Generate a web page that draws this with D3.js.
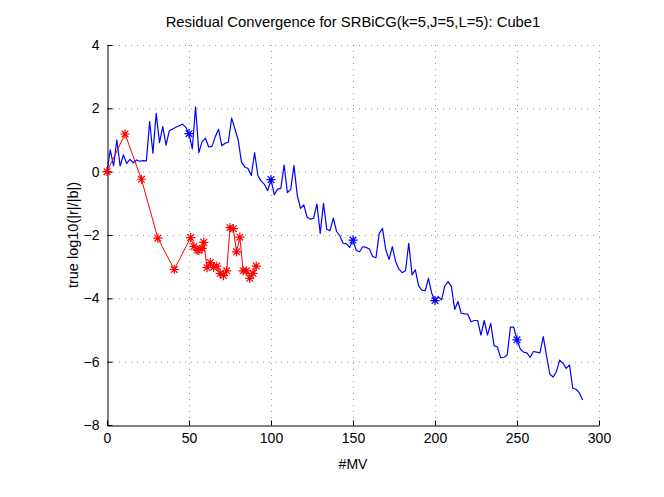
<!DOCTYPE html>
<html>
<head>
<meta charset="utf-8">
<script src="https://cdn.jsdelivr.net/npm/d3@7"></script>
<style>
  html, body { margin: 0; padding: 0; background: #fff; }
  svg { display: block; }
  text { font-family: "Liberation Sans", Arial, Helvetica, sans-serif; fill: #000; }
</style>
</head>
<body>
<svg id="chart" width="664" height="497"></svg>
<script>
// ---- data ----
const blueMV = [0,2,4,6,8,10,12,14,16,18,20,22,24,26,28,30,32,34,36,38,40,42,44,46,48,50,
  52,54,56,58,60,62,64,66,68,70,72,74,76,78,80,82,84,86,88,90,92,94,96,98,100,
  102,104,106,108,110,112,114,116,118,120,122,124,126,128,130,132,134,136,138,140,
  142,144,146,148,150,152,154,156,158,160,162,164,166,168,170,172,174,176,178,180,
  182,184,186,188,190,192,194,196,198,200,202,204,206,208,210,212,214,216,218,220,
  222,224,226,228,230,232,234,236,238,240,242,244,246,248,250,252,254,256,258,260,
  262,264,266,268,270,272,274,276,278,280,282,284,286,288,290];
const blueRes = [0.02,0.69,0.18,1.00,0.18,0.53,0.26,0.39,0.28,0.37,0.33,0.35,0.34,1.58,0.58,1.84,0.92,1.42,0.84,1.29,1.35,1.40,1.45,1.50,1.40,1.20,
  0.72,2.05,0.60,0.95,1.06,0.78,0.80,1.10,1.34,0.82,0.90,0.93,1.69,1.35,1.00,0.30,0.15,0.10,-0.12,0.60,-0.12,-0.30,-0.40,-0.60,-0.25,
  -0.73,-0.55,-0.53,0.21,-0.66,-0.56,0.19,-0.74,-1.16,-1.05,-1.44,-1.50,-1.47,-1.02,-1.95,-1.00,-1.82,-1.86,-1.47,-1.89,
  -2.03,-2.26,-2.28,-2.39,-2.16,-2.49,-2.53,-2.37,-2.39,-2.44,-2.68,-2.72,-1.95,-1.79,-2.47,-2.77,-2.37,-2.84,-3.08,-3.19,
  -3.13,-2.26,-3.26,-3.10,-3.61,-3.74,-3.76,-3.37,-3.84,-4.07,-3.95,-4.05,-3.61,-3.47,-3.63,-4.35,-4.10,-4.47,-4.49,-4.50,
  -4.74,-4.70,-4.70,-5.16,-4.70,-5.16,-4.79,-5.50,-5.53,-5.87,-5.86,-5.80,-4.91,-4.91,-5.31,-5.60,-5.70,-5.72,-5.86,-5.68,
  -5.70,-5.72,-5.21,-5.82,-6.39,-6.49,-6.32,-5.95,-6.05,-6.21,-6.10,-6.84,-6.87,-6.98,-7.21];
const blueMarkerMV = [50,100,150,200,250];

const redMV  = [0,11,21,31,41,51,53,55,56,58,59,61,63,65,67,69,71,73,75,77,79,81,83,85,87,89,91];
const redRes = [0,1.19,-0.24,-2.10,-3.09,-2.08,-2.36,-2.47,-2.49,-2.42,-2.23,-3.03,-2.87,-3.02,-2.98,-3.21,-3.28,-3.13,-1.77,-1.80,-2.53,-2.07,-3.13,-3.13,-3.37,-3.21,-2.98];

const xTicks = [0,50,100,150,200,250,300];
const yTicks = [-8,-6,-4,-2,0,2,4];

const titleText = "Residual Convergence for SRBiCG(k=5,J=5,L=5): Cube1";
const xLabel = "#MV";
const yLabel = "true log10(|r|/|b|)";

// ---- layout ----
const pL = 107, pR = 599, pT = 45, pB = 425;
const svg = d3.select("#chart");
const x = d3.scaleLinear().domain([0,300]).range([pL,pR]);
const y = d3.scaleLinear().domain([-8,4]).range([pB,pT]);

// grid
const grid = svg.append("g").attr("stroke","#000").attr("stroke-width",0.7)
  .attr("stroke-dasharray","1,5").attr("stroke-opacity",0.6);
grid.selectAll("line.gx").data(xTicks.filter(d=>d!==0)).join("line")
  .attr("x1",d=>x(d)+0.5).attr("x2",d=>x(d)+0.5).attr("y1",pT).attr("y2",pB);
grid.selectAll("line.gy").data(yTicks.filter(d=>d!==-8)).join("line")
  .attr("y1",d=>y(d)+0.5).attr("y2",d=>y(d)+0.5).attr("x1",pL).attr("x2",pR);

// axes
const fmt = d => d3.format("d")(d).replace("-", "\u2212");
const xAxis = d3.axisBottom(x).tickValues(xTicks).tickSizeInner(-5).tickSizeOuter(0).tickPadding(8).tickFormat(fmt);
const yAxis = d3.axisLeft(y).tickValues(yTicks).tickSizeInner(-5).tickSizeOuter(0).tickPadding(8).tickFormat(fmt);
const gx = svg.append("g").attr("transform",`translate(0,${pB+0.5})`).call(xAxis);
const gy = svg.append("g").attr("transform",`translate(${pL+0.5},0)`).call(yAxis);
[gx,gy].forEach(g=>{
  g.selectAll("path,line").attr("stroke","#000").attr("stroke-width",1);
  g.selectAll("text").style("font-size","14px").attr("fill","#000");
});

// lines
const line = d3.line().x(d=>x(d[0])).y(d=>y(d[1]));
const blue = blueMV.map((m,i)=>[m,blueRes[i]]);
const red = redMV.map((m,i)=>[m,redRes[i]]);

svg.append("path").datum(blue).attr("d",line).attr("fill","none")
  .attr("stroke","#0000ff").attr("stroke-width",1.2).attr("stroke-linejoin","round");
svg.append("path").datum(red).attr("d",line).attr("fill","none")
  .attr("stroke","#ff0000").attr("stroke-width",1).attr("stroke-linejoin","round");

// star markers (MATLAB '*')
const sr = 4.6, sd = sr*0.72;
const starPath = `M${-sr},0L${sr},0M0,${-sr}L0,${sr}M${-sd},${-sd}L${sd},${sd}M${-sd},${sd}L${sd},${-sd}`;
function stars(data,color){
  svg.append("g").selectAll("path").data(data).join("path")
    .attr("d",starPath).attr("transform",d=>`translate(${x(d[0])},${y(d[1])})`)
    .attr("fill","none").attr("stroke",color).attr("stroke-width",1.2);
}
stars(blue.filter(d=>blueMarkerMV.includes(d[0])),"#0000ff");
stars(red,"#ff0000");

// labels
svg.append("text").attr("x",(pL+pR)/2).attr("y",27).attr("text-anchor","middle")
  .style("font-size","14.8px").text(titleText);
svg.append("text").attr("x",(pL+pR)/2).attr("y",469).attr("text-anchor","middle")
  .style("font-size","14px").text(xLabel);
svg.append("text").attr("transform",`translate(78,${(pT+pB)/2}) rotate(-90)`)
  .attr("text-anchor","middle").style("font-size","14.5px").text(yLabel);
</script>
</body>
</html>
